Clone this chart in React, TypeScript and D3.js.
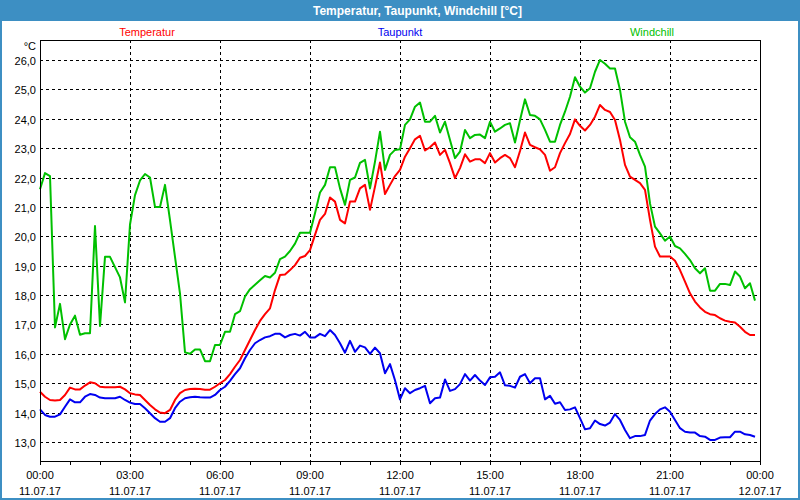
import React, { useRef, useEffect } from "react";
import * as d3 from "d3";

// 10-minute readings, 11.07.17 00:00 .. 23:50
const temperatur = [
  14.71, 14.54, 14.43, 14.41, 14.43, 14.6, 14.85, 14.79, 14.79, 14.92, 15.03, 15.0,
  14.88, 14.86, 14.86, 14.86, 14.88, 14.79, 14.66, 14.62, 14.6, 14.43, 14.26, 14.11,
  14.0, 13.98, 14.09, 14.43, 14.66, 14.77, 14.8, 14.81, 14.8, 14.78, 14.78, 14.88,
  15.0, 15.11, 15.31, 15.56, 15.79, 16.13, 16.47, 16.81, 17.12, 17.35, 17.55, 18.17,
  18.68, 18.7, 18.85, 19.02, 19.27, 19.33, 19.53, 20.05, 20.56, 20.76, 21.32, 21.18,
  20.56, 20.44, 21.18, 21.18, 21.63, 21.75, 20.9, 21.69, 22.51, 21.44, 21.75, 22.05,
  22.26, 22.71, 23.0, 23.3, 23.42, 22.92, 23.03, 23.19, 22.77, 22.94, 22.49, 21.98,
  22.32, 22.79, 22.54, 22.62, 22.62, 22.49, 22.83, 22.51, 22.66, 22.77, 22.66, 22.35,
  22.9, 23.53, 23.11, 23.03, 22.96, 22.77, 22.23, 22.35, 22.83, 23.17, 23.48, 23.98,
  23.76, 23.6, 23.79, 24.07, 24.47, 24.3, 24.23, 23.96, 23.28, 22.43, 22.03, 21.92,
  21.81, 21.58, 20.56, 19.65, 19.31, 19.31, 19.31, 19.17, 18.85, 18.46, 18.06, 17.78,
  17.58, 17.43, 17.35, 17.32, 17.21, 17.13, 17.09, 17.07, 16.92, 16.75, 16.64, 16.64,
];

const taupunkt = [
  14.11, 13.92, 13.86, 13.86, 13.94, 14.2, 14.45, 14.35, 14.35, 14.54, 14.63, 14.6,
  14.51, 14.49, 14.49, 14.49, 14.54, 14.43, 14.34, 14.29, 14.29, 14.15, 13.98, 13.81,
  13.69, 13.69, 13.81, 14.15, 14.37, 14.49, 14.52, 14.54, 14.52, 14.51, 14.51, 14.6,
  14.77, 14.88, 15.08, 15.31, 15.51, 15.85, 16.13, 16.36, 16.47, 16.56, 16.6, 16.68,
  16.68, 16.56, 16.64, 16.68, 16.62, 16.75, 16.56, 16.56, 16.68, 16.6, 16.81, 16.64,
  16.36, 16.04, 16.44, 16.07, 16.28, 16.22, 16.0, 16.21, 16.02, 15.34, 15.65, 15.1,
  14.45, 14.83, 14.66, 14.77, 14.83, 14.91, 14.32, 14.49, 14.51, 15.13, 14.74, 14.8,
  14.97, 15.31, 15.09, 15.28, 15.09, 14.94, 15.2, 15.22, 15.37, 14.93, 14.91, 14.85,
  15.22, 15.31, 15.0, 15.17, 15.17, 14.45, 14.57, 14.3, 14.35, 14.09, 14.11, 14.18,
  13.81, 13.43, 13.47, 13.73, 13.61, 13.56, 13.66, 13.95, 13.75, 13.41, 13.13, 13.2,
  13.2, 13.24, 13.73, 13.95, 14.11, 14.18, 14.03, 13.75, 13.47, 13.35, 13.32, 13.32,
  13.2, 13.18, 13.07, 13.07, 13.15, 13.16, 13.16, 13.35, 13.35, 13.26, 13.24, 13.18,
];

const windchill = [
  21.6, 22.15, 22.05, 16.9, 17.7, 16.5, 17.0, 17.3, 16.65, 16.7, 16.7, 20.35,
  16.95, 19.3, 19.3, 18.95, 18.6, 17.75, 20.4, 21.4, 21.9, 22.12, 22.0, 21.0,
  21.0, 21.75, 20.55, 19.3, 18.05, 16.05, 16.0, 16.15, 16.15, 15.75, 15.75, 16.3,
  16.3, 16.75, 16.75, 17.35, 17.45, 17.95, 18.2, 18.35, 18.5, 18.65, 18.6, 18.76,
  19.22, 19.31, 19.5, 19.75, 20.12, 20.12, 20.12, 20.78, 21.49, 21.75, 22.35, 22.35,
  21.63, 21.07, 21.92, 22.0, 22.5, 22.6, 21.63, 22.54, 23.56, 22.26, 22.77, 22.94,
  22.96, 23.79, 23.98, 24.41, 24.55, 23.9, 23.9, 24.1, 23.53, 23.9, 23.28, 22.66,
  22.88, 23.62, 23.34, 23.45, 23.46, 23.34, 23.9, 23.56, 23.67, 23.79, 23.85, 23.19,
  23.95, 24.66, 24.13, 24.1, 23.98, 23.62, 23.22, 23.22, 23.79, 24.24, 24.75, 25.41,
  25.09, 24.89, 25.04, 25.6, 26.0, 25.87, 25.71, 25.71, 24.98, 23.9, 23.37, 23.22,
  22.77, 22.37, 21.12, 20.33, 20.1, 19.85, 19.99, 19.67, 19.59, 19.4, 19.19, 18.91,
  18.74, 18.91, 18.15, 18.15, 18.38, 18.38, 18.34, 18.8, 18.63, 18.23, 18.4, 17.81,
];

const seriesNames = ["Temperatur", "Taupunkt", "Windchill"];
const yTicks = [13, 14, 15, 16, 17, 18, 19, 20, 21, 22, 23, 24, 25, 26];
const title = "Temperatur, Taupunkt, Windchill [°C]";
const unit = "°C";

const start = new Date(2017, 6, 11, 0, 0);
const end = new Date(2017, 6, 12, 0, 0);

const App = () => {
  const ref = useRef<SVGSVGElement>(null);

  useEffect(() => {
    const svg = d3.select(ref.current);
    svg.selectAll("*").remove();

    const width = 800;
    const height = 500;
    const left = 40, right = 760, top = 40, bottom = 461;
    const font = "'Liberation Sans', Arial, sans-serif";
    const frameBlue = "#3d8fc3";

    // window frame
    svg.append("rect").attr("width", width).attr("height", height).attr("fill", frameBlue);
    svg.append("rect").attr("x", 2).attr("y", 21).attr("width", width - 4).attr("height", height - 23).attr("fill", "#ffffff");
    svg.append("text")
      .attr("x", 313).attr("y", 15)
      .attr("fill", "#ffffff")
      .style("font", `bold 12px ${font}`)
      .text(title);

    const times = windchill.map((_, i) => d3.timeMinute.offset(start, i * 10));

    const x = d3.scaleTime().domain([start, end]).range([left, right]);
    const y = d3.scaleLinear().domain([12.353, 26.68]).range([bottom, top]);

    // grid
    const grid = svg.append("g").attr("shape-rendering", "crispEdges");
    grid.selectAll(".hg")
      .data(yTicks)
      .enter()
      .append("line")
      .attr("x1", left).attr("x2", right)
      .attr("y1", (d) => Math.round(y(d)) + 0.5)
      .attr("y2", (d) => Math.round(y(d)) + 0.5)
      .attr("stroke", "#000").attr("stroke-dasharray", "3,3");
    const majorTicks = d3.timeHour.every(3)!.range(start, d3.timeMinute.offset(end, 1));
    grid.selectAll(".vg")
      .data(majorTicks.slice(1, -1))
      .enter()
      .append("line")
      .attr("x1", (d) => Math.round(x(d)) + 0.5)
      .attr("x2", (d) => Math.round(x(d)) + 0.5)
      .attr("y1", top).attr("y2", bottom)
      .attr("stroke", "#000").attr("stroke-dasharray", "3,3");

    // series
    const colors = ["#ff0000", "#0000f0", "#00c000"];
    const data = [temperatur, taupunkt, windchill];
    const line = d3.line<number>()
      .x((_, i) => x(times[i]))
      .y((d) => y(d));
    [2, 0, 1].forEach((k) => {
      svg.append("path")
        .datum(data[k])
        .attr("d", line)
        .attr("fill", "none")
        .attr("stroke", colors[k])
        .attr("stroke-width", 2)
        .attr("stroke-linejoin", "round");
    });

    // frame of plot
    svg.append("rect")
      .attr("x", left + 0.5).attr("y", top + 0.5)
      .attr("width", right - left).attr("height", bottom - top)
      .attr("fill", "none").attr("stroke", "#000")
      .attr("shape-rendering", "crispEdges");

    // x axis ticks
    const hourTicks = d3.timeHour.every(1)!.range(start, d3.timeMinute.offset(end, 1));
    svg.append("g").attr("shape-rendering", "crispEdges")
      .selectAll("line")
      .data(hourTicks)
      .enter()
      .append("line")
      .attr("x1", (d) => Math.round(x(d)) + 0.5)
      .attr("x2", (d) => Math.round(x(d)) + 0.5)
      .attr("y1", bottom).attr("y2", bottom + 4)
      .attr("stroke", "#000");

    const xl = svg.append("g").style("font", `11px ${font}`).attr("fill", "#000").attr("text-anchor", "middle");
    const fmtTime = d3.timeFormat("%H:%M");
    const fmtDate = d3.timeFormat("%d.%m.%y");
    majorTicks.forEach((d) => {
      xl.append("text").attr("x", x(d)).attr("y", 479).text(fmtTime(d));
      xl.append("text").attr("x", x(d)).attr("y", 495).text(fmtDate(d));
    });

    // y labels
    const yl = svg.append("g").style("font", `11px ${font}`).attr("fill", "#000").attr("text-anchor", "end");
    yTicks.forEach((v) => {
      yl.append("text").attr("x", 36).attr("y", y(v) + 5).text(d3.format(".1f")(v).replace(".", ","));
    });
    yl.append("text").attr("x", 36).attr("y", 50).text(unit);

    // legend
    const legendX = [147, 400, 652];
    seriesNames.forEach((n, k) => {
      svg.append("text")
        .attr("x", legendX[k]).attr("y", 36)
        .attr("text-anchor", "middle")
        .attr("fill", colors[k])
        .style("font", `11px ${font}`)
        .text(n);
    });
  }, []);

  return (
    <svg
      ref={ref}
      width={800}
      height={500}
      style={{ position: "absolute", left: 0, top: 0, display: "block" }}
    ></svg>
  );
};

export default App;
